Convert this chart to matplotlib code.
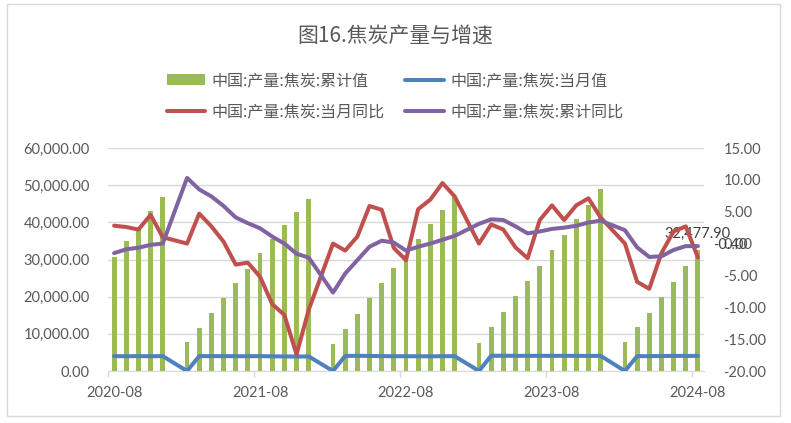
# Chart: coke output in China, cumulative / monthly value and YoY growth (2020-08 .. 2024-08)

import numpy as np
import pandas as pd
import matplotlib
matplotlib.use('Agg')
import matplotlib.pyplot as plt
from matplotlib.patches import Rectangle
from matplotlib.ticker import FixedLocator, FuncFormatter

plt.rcParams['font.family'] = ['Lato', 'Noto Sans CJK SC', 'DejaVu Sans']

## Data (10k tons / %), January is not published -> nan
months = [str(p) for p in pd.period_range('2020-08', '2024-08', freq='M')]
nan = np.nan

cum_value = [30800, 34900, 38500, 43100, 46900,
             nan, 7700, 11700, 15600, 19600, 23600, 27400, 31700, 35600, 39300, 42700, 46300,
             nan, 7200, 11200, 15300, 19600, 23700, 27700, 31300, 35600, 39500, 43300, 46800,
             nan, 7500, 11800, 15900, 20100, 24200, 28200, 32500, 36600, 40800, 44700, 49100,
             nan, 7800, 11800, 15700, 19800, 24000, 28200, 32477.90]

month_value = [4000, 3980, 4000, 3980, 4000,
               nan, 0, 4000, 4000, 4000, 3980, 3980, 4000, 3950, 3920, 3880, 3920,
               nan, 0, 4050, 4080, 4050, 4000, 3980, 3980, 3960, 3950, 3980, 4000,
               nan, 0, 4100, 4100, 4080, 4080, 4080, 4080, 4080, 4080, 4050, 4080,
               nan, 0, 4000, 4000, 4030, 4060, 4060, 4060]

month_yoy = [2.8, 2.6, 2.2, 4.5, 1.0,
             nan, 0.0, 4.7, 2.7, 0.3, -3.3, -3.0, -5.2, -9.5, -11.2, -17.4, -10.4,
             nan, 0.0, -1.1, 1.1, 5.9, 5.3, -0.7, -2.6, 5.4, 6.9, 9.5, 7.4,
             nan, 0.0, 3.0, 2.2, -0.6, -2.3, 3.7, 6.0, 3.7, 6.0, 7.1, 4.1,
             nan, 0.0, -6.0, -7.1, -1.5, 1.9, 2.7, -2.2]

cum_yoy = [-1.5, -0.9, -0.65, -0.2, 0.0,
           nan, 10.3, 8.5, 7.4, 5.9, 4.1, 3.2, 2.4, 1.1, 0.0, -1.6, -2.2,
           nan, -7.7, -4.7, -2.6, -0.5, 0.45, 0.15, -1.1, -0.5, 0.0, 0.6, 1.2,
           nan, 3.1, 3.8, 3.7, 2.7, 1.6, 1.9, 2.3, 2.5, 2.8, 3.3, 3.6,
           nan, 2.1, -0.6, -2.1, -2.0, -1.0, -0.4, -0.40]

names = ['中国:产量:焦炭:累计值', '中国:产量:焦炭:当月值',
         '中国:产量:焦炭:当月同比', '中国:产量:焦炭:累计同比']

GREEN, BLUE, RED, PURPLE = '#9BBB59', '#4F81BD', '#C0504D', '#8064A2'
TXT = '#595959'
GRID = '#D9D9D9'


## Helper: draw a line skipping missing points (Excel "connect data points")
def plot_gaps(ax, y, color, label):
    y = np.asarray(y, dtype=float)
    x = np.arange(len(y))
    ok = ~np.isnan(y)
    line, = ax.plot(x[ok], y[ok], color=color, lw=2.9, label=label,
                    solid_joinstyle='round', solid_capstyle='round')
    return line


x = np.arange(len(months))

fig = plt.figure(figsize=(7.91, 4.23), dpi=100)
fig.patches.append(Rectangle((7 / 791, 7 / 423), 773 / 791, 412 / 423,
                             transform=fig.transFigure, fill=False,
                             edgecolor=GRID, lw=1))

ax = fig.add_axes([108 / 791, 52 / 423, 596 / 791, 223 / 423])
ax2 = ax.twinx()

# primary axis: cumulative bars + monthly value
bars = ax.bar(x, cum_value, width=0.4, color=GREEN, label=names[0], zorder=2)
blue = plot_gaps(ax, month_value, BLUE, names[1])
blue.set_zorder(3)

# secondary axis: growth rates
red = plot_gaps(ax2, month_yoy, RED, names[2])
purple = plot_gaps(ax2, cum_yoy, PURPLE, names[3])

ax.set_xlim(-0.5, len(months) - 0.5)
ax.set_ylim(0, 60000)
ax2.set_ylim(-20, 15)
ax.set_yticks(np.arange(0, 60001, 10000))
ax2.set_yticks(np.arange(-20, 16, 5))
ax.yaxis.set_major_formatter(FuncFormatter(lambda v, p: f'{v:,.2f}'))
ax2.yaxis.set_major_formatter(FuncFormatter(lambda v, p: f'{v:.2f}'))

ax.set_xticks(x[::12])
ax.set_xticklabels([months[i] for i in x[::12]])
ax.xaxis.set_minor_locator(FixedLocator(x[::12] - 0.5))
ax.tick_params(axis='x', which='major', length=0, pad=11, labelsize=10.5, labelcolor=TXT)
ax.tick_params(axis='x', which='minor', length=4, color=GRID, width=1)
ax.tick_params(axis='y', length=0, pad=13, labelsize=10.5, labelcolor=TXT)
ax2.tick_params(axis='y', length=0, pad=14, labelsize=10.5, labelcolor=TXT)

ax.grid(axis='y', color=GRID, lw=1, zorder=0)
ax.set_axisbelow(True)
for a in (ax, ax2):
    for side in ('top', 'left', 'right'):
        a.spines[side].set_visible(False)
    a.spines['bottom'].set_color(GRID)
ax2.spines['bottom'].set_visible(False)

# data labels on the last point
ax.annotate(f'{cum_value[-1]:,.2f}', (x[-1], cum_value[-1]), xytext=(0, 12),
            textcoords='offset points', ha='center', va='center',
            fontsize=10.5, color='#404040')
ax2.annotate(f'{cum_yoy[-1]:.2f}', (x[-1], cum_yoy[-1]), xytext=(11, 1),
             textcoords='offset points', ha='left', va='center',
             fontsize=10.5, color='#404040')

fig.text(395 / 791, 1 - 36 / 423, '图16.焦炭产量与增速', ha='center', va='center',
         fontsize=15, color=TXT, family=['Noto Sans CJK SC', 'DejaVu Sans'])

fig.legend(handles=[bars, red, blue, purple],
           labels=[names[0], names[2], names[1], names[3]],
           ncol=2, loc='center', bbox_to_anchor=(395 / 791, 1 - 96.5 / 423),
           frameon=False, fontsize=11.5, labelcolor=TXT,
           prop={'family': ['Noto Sans CJK SC', 'DejaVu Sans'], 'size': 11.5},
           handlelength=2.4, handletextpad=0.4, columnspacing=1.3,
           labelspacing=0.9)

fig.savefig('out.png', dpi=100)
